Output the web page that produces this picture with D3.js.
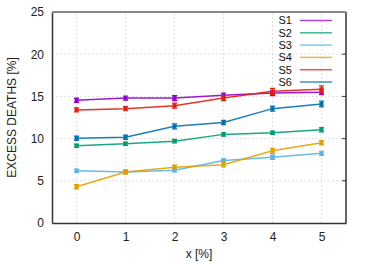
<!DOCTYPE html>
<html>
<head>
<meta charset="utf-8">
<script src="https://cdn.jsdelivr.net/npm/d3@7"></script>
<style>
  body { margin: 0; background: #fff; }
  svg { display: block; font-family: "Liberation Sans", Arial, sans-serif; }
</style>
</head>
<body>
<div id="chart"></div>
<script>
// data
const xs = [0, 1, 2, 3, 4, 5];
const names = ["S1", "S2", "S3", "S4", "S5", "S6"];
const colors = ["#9400d3", "#009e73", "#56b4e9", "#e69f00", "#e51e10", "#0072b2"];
const s1 = [14.55, 14.8, 14.8, 15.15, 15.4, 15.5];
const s2 = [9.15, 9.4, 9.7, 10.5, 10.7, 11.05];
const s3 = [6.2, 6.05, 6.25, 7.4, 7.8, 8.25];
const s4 = [4.3, 6.05, 6.6, 6.9, 8.55, 9.5];
const s5 = [13.4, 13.55, 13.9, 14.8, 15.6, 15.85];
const s6 = [10.05, 10.15, 11.45, 11.9, 13.55, 14.1];
const e1 = [0.25, 0.25, 0.3, 0.25, 0.3, 0.3];
const e2 = [0.2, 0.2, 0.2, 0.2, 0.2, 0.25];
const e3 = [0.2, 0.2, 0.2, 0.2, 0.25, 0.25];
const e4 = [0.25, 0.25, 0.25, 0.25, 0.3, 0.25];
const e5 = [0.25, 0.25, 0.3, 0.3, 0.35, 0.4];
const e6 = [0.25, 0.25, 0.3, 0.25, 0.3, 0.35];
const yTicks = [0, 5, 10, 15, 20, 25];

const series = [s1, s2, s3, s4, s5, s6];
const errs = [e1, e2, e3, e4, e5, e6];

const W = 374, H = 262;
const margin = {top: 12, right: 28, bottom: 39, left: 52};

const svg = d3.select("#chart").append("svg")
  .attr("width", W).attr("height", H);

const x = d3.scaleLinear()
  .domain([-0.5, 5.5])
  .range([margin.left, W - margin.right]);
const y = d3.scaleLinear()
  .domain([0, 25])
  .range([H - margin.bottom, margin.top]);

// grid
svg.append("g")
  .selectAll("line")
  .data(xs)
  .join("line")
    .attr("x1", d => x(d)).attr("x2", d => x(d))
    .attr("y1", y(0)).attr("y2", y(25))
    .attr("stroke", "#d8d8d8")
    .attr("stroke-dasharray", "2,2")
    .attr("stroke-width", 0.8);
svg.append("g")
  .selectAll("line")
  .data(yTicks.slice(1, -1))
  .join("line")
    .attr("x1", x(-0.5)).attr("x2", x(5.5))
    .attr("y1", d => y(d)).attr("y2", d => y(d))
    .attr("stroke", "#d8d8d8")
    .attr("stroke-dasharray", "2,2")
    .attr("stroke-width", 0.8);

// axes
const xAxis = svg.append("g")
  .attr("transform", `translate(0,${y(0)})`)
  .call(d3.axisBottom(x).tickValues(xs).tickFormat(d3.format("d")).tickSize(0).tickPadding(9));
const yAxis = svg.append("g")
  .attr("transform", `translate(${x(-0.5)},0)`)
  .call(d3.axisLeft(y).tickValues(yTicks).tickSize(0).tickPadding(8));
[xAxis, yAxis].forEach(g => {
  g.select(".domain").attr("stroke", "#333").attr("stroke-width", 1.5);
  g.selectAll(".tick text")
    .attr("font-size", 12)
    .attr("font-family", "Liberation Sans, Arial, sans-serif")
    .attr("fill", "#222");
});

// right border with inward ticks, top border
svg.append("line")
  .attr("x1", x(5.5)).attr("x2", x(5.5))
  .attr("y1", y(0)).attr("y2", y(25))
  .attr("stroke", "#333").attr("stroke-width", 1.5);
svg.append("g")
  .selectAll("line")
  .data(yTicks.slice(1, -1))
  .join("line")
    .attr("x1", x(5.5) - 4).attr("x2", x(5.5))
    .attr("y1", d => y(d)).attr("y2", d => y(d))
    .attr("stroke", "#333");
svg.append("line")
  .attr("x1", x(-0.5)).attr("x2", x(5.5))
  .attr("y1", y(25)).attr("y2", y(25))
  .attr("stroke", "#888").attr("stroke-width", 2);

// axis labels
svg.append("text")
  .attr("x", (x(-0.5) + x(5.5)) / 2)
  .attr("y", H - 4)
  .attr("text-anchor", "middle")
  .attr("font-size", 12)
  .attr("fill", "#222")
  .text("x [%]");
svg.append("text")
  .attr("transform", `translate(16,${(y(0) + y(25)) / 2}) rotate(-90)`)
  .attr("text-anchor", "middle")
  .attr("font-size", 12)
  .attr("fill", "#222")
  .text("EXCESS DEATHS [%]");

// series
const line = d3.line().x((d, i) => x(xs[i])).y(d => y(d));
series.forEach((s, k) => {
  const g = svg.append("g").attr("stroke", colors[k]).attr("fill", colors[k]);
  g.append("path")
    .attr("d", line(s))
    .attr("fill", "none")
    .attr("stroke-width", 1.5)
    .attr("stroke-opacity", 0.9);
  const pts = s.map((v, i) => ({x: xs[i], v: v, e: errs[k][i]}));
  g.selectAll(".bar")
    .data(pts)
    .join("path")
      .attr("class", "bar")
      .attr("fill", "none")
      .attr("stroke-width", 1.2)
      .attr("d", d => {
        const cx = x(d.x), t = y(d.v + d.e), b = y(d.v - d.e);
        return `M${cx},${t}V${b}M${cx - 2.5},${t}H${cx + 2.5}M${cx - 2.5},${b}H${cx + 2.5}`;
      });
  g.selectAll("rect")
    .data(pts)
    .join("rect")
      .attr("x", d => x(d.x) - 2)
      .attr("y", d => y(d.v) - 2)
      .attr("width", 4).attr("height", 4)
      .attr("stroke", "none");
});

// legend
const leg = svg.append("g");
names.forEach((n, k) => {
  const ly = 20.5 + k * 12.3;
  leg.append("text")
    .attr("x", 292).attr("y", ly)
    .attr("dy", "0.36em")
    .attr("text-anchor", "end")
    .attr("font-size", 11)
    .attr("fill", "#111")
    .text(n);
  leg.append("line")
    .attr("x1", 300).attr("x2", 332)
    .attr("y1", ly).attr("y2", ly)
    .attr("stroke", colors[k])
    .attr("stroke-opacity", 0.75)
    .attr("stroke-width", 1.5);
});
</script>
</body>
</html>
